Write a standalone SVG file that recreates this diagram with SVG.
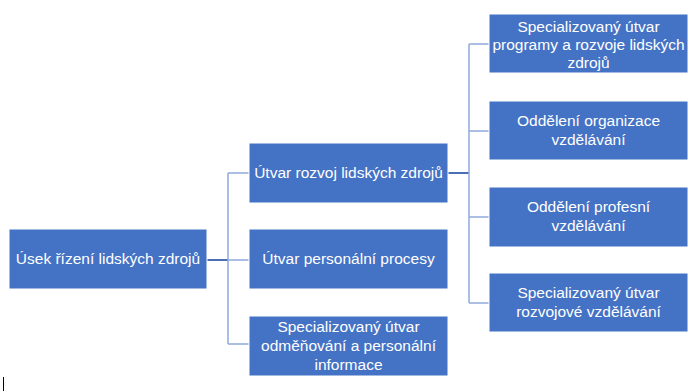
<svg xmlns="http://www.w3.org/2000/svg" width="689" height="392" viewBox="0 0 689 392">
  <style>
    .box { fill: #4472C4; stroke: #ffffff; stroke-width: 1; }
    .lbl { fill: #ffffff; font-family: "Liberation Sans", Arial, sans-serif; font-size: 15.5px; text-anchor: middle; }
    .link { fill: none; stroke: #8faadc; stroke-width: 1.5; }
    .link-main { fill: none; stroke: #4a6fb5; stroke-width: 2; }
  </style>
  <rect width="689" height="392" fill="#ffffff"/>

  <g id="connectors">
    <!-- root to second level -->
    <path class="link-main" d="M207 260 H228"/>
    <path class="link" d="M228 173 V344"/>
    <path class="link" d="M228 173 H249"/>
    <path class="link" d="M228 260 H249"/>
    <path class="link" d="M228 344 H249"/>
    <!-- development unit to departments -->
    <path class="link-main" d="M448 173 H469"/>
    <path class="link" d="M469 44 V303"/>
    <path class="link" d="M469 44 H489"/>
    <path class="link" d="M469 131 H489"/>
    <path class="link" d="M469 217 H489"/>
    <path class="link" d="M469 303 H489"/>
  </g>

  <g id="root">
    <rect class="box" x="9" y="229" width="198" height="60"/>
    <text class="lbl" x="108" y="264">Úsek řízení lidských zdrojů</text>
  </g>

  <g id="rozvoj">
    <rect class="box" x="249" y="143" width="199" height="60"/>
    <text class="lbl" x="348.5" y="178">Útvar rozvoj lidských zdrojů</text>
  </g>

  <g id="procesy">
    <rect class="box" x="249" y="229" width="199" height="60"/>
    <text class="lbl" x="348.5" y="264">Útvar personální procesy</text>
  </g>

  <g id="odmenovani">
    <rect class="box" x="249" y="316" width="199" height="60"/>
    <text class="lbl" x="348.5" y="332">Specializovaný útvar</text>
    <text class="lbl" x="348.5" y="351">odměňování a personální</text>
    <text class="lbl" x="348.5" y="370">informace</text>
  </g>

  <g id="programy">
    <rect class="box" x="489" y="14" width="199" height="59"/>
    <text class="lbl" x="588.5" y="32">Specializovaný útvar</text>
    <text class="lbl" x="588.5" y="50">programy a rozvoje lidských</text>
    <text class="lbl" x="588.5" y="68">zdrojů</text>
  </g>

  <g id="organizace">
    <rect class="box" x="489" y="101" width="199" height="59"/>
    <text class="lbl" x="588.5" y="126">Oddělení organizace</text>
    <text class="lbl" x="588.5" y="145">vzdělávání</text>
  </g>

  <g id="profesni">
    <rect class="box" x="489" y="187" width="199" height="60"/>
    <text class="lbl" x="588.5" y="212">Oddělení profesní</text>
    <text class="lbl" x="588.5" y="231">vzdělávání</text>
  </g>

  <g id="rozvojove">
    <rect class="box" x="489" y="273" width="199" height="59"/>
    <text class="lbl" x="588.5" y="298">Specializovaný útvar</text>
    <text class="lbl" x="588.5" y="317">rozvojové vzdělávání</text>
  </g>

  <!-- caret mark at lower left -->
  <line x1="3.5" y1="377" x2="3.5" y2="391" stroke="#000000" stroke-width="1"/>
</svg>
